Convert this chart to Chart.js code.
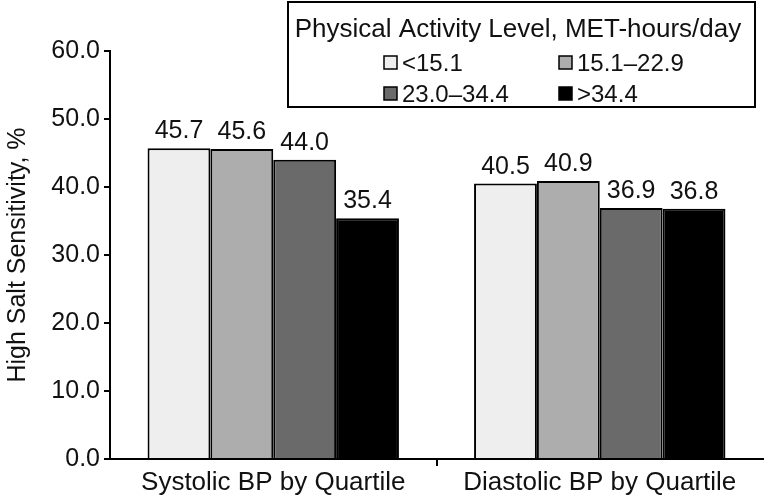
<!DOCTYPE html>
<html><head><meta charset="utf-8">
<script src="https://cdn.jsdelivr.net/npm/chart.js@4"></script>
<style>html,body{margin:0;padding:0;background:#fff}#wrap{width:770px;height:503px}</style>
</head><body><div id="wrap"><canvas id="c" width="770" height="503"></canvas></div>
<script>
const categories = ["Systolic BP by Quartile", "Diastolic BP by Quartile"];
const seriesNames = ["<15.1", "15.1\u201322.9", "23.0\u201334.4", ">34.4"];
const lowest = [45.7, 40.5];
const second = [45.6, 40.9];
const third = [44.0, 36.9];
const highest = [35.4, 36.8];
const yTicks = [0, 10, 20, 30, 40, 50, 60];
const legendTitle = "Physical Activity Level, MET-hours/day";
const colors = ["#eeeeee", "#adadad", "#6a6a6a", "#000000"];
const FONT = "'Liberation Sans', Arial, sans-serif";

const valueLabels = {
  id: 'valueLabels',
  afterDatasetsDraw(chart) {
    const ctx = chart.ctx;
    ctx.save();
    ctx.font = "25px " + FONT;
    ctx.fillStyle = "#111";
    ctx.textAlign = "center";
    ctx.textBaseline = "alphabetic";
    chart.data.datasets.forEach((ds, i) => {
      chart.getDatasetMeta(i).data.forEach((bar, j) => {
        ctx.fillText(ds.data[j].toFixed(1), bar.x, bar.y - 10);
      });
    });
    ctx.restore();
  }
};

const boxLegend = {
  id: 'boxLegend',
  afterDraw(chart) {
    const ctx = chart.ctx;
    ctx.save();
    ctx.strokeStyle = "#000";
    ctx.lineWidth = 2;
    ctx.strokeRect(288, 2, 467, 105);
    ctx.fillStyle = "#111";
    ctx.font = "26px " + FONT;
    ctx.textAlign = "center";
    ctx.textBaseline = "middle";
    ctx.fillText(legendTitle, 518, 30);
    const pos = [[384, 63], [559, 63], [384, 94], [559, 94]];
    chart.data.datasets.forEach((ds, i) => {
      const [x, y] = pos[i];
      ctx.fillStyle = ds.backgroundColor;
      ctx.fillRect(x, y - 7, 13, 13);
      ctx.strokeStyle = "#000";
      ctx.lineWidth = 1.5;
      ctx.strokeRect(x, y - 7, 13, 13);
      ctx.fillStyle = "#111";
      ctx.textAlign = "left";
      ctx.font = "24px " + FONT;
      ctx.fillText(ds.label, x + 18, y + 1);
    });
    ctx.restore();
  }
};

new Chart(document.getElementById('c'), {
  type: 'bar',
  data: {
    labels: categories,
    datasets: [lowest, second, third, highest].map((d, i) => ({
      label: seriesNames[i],
      data: d,
      backgroundColor: colors[i],
      borderColor: "#000",
      borderWidth: 2,
      borderSkipped: 'bottom',
      categoryPercentage: 0.77,
      barPercentage: 1.0
    }))
  },
  options: {
    responsive: false,
    animation: false,
    layout: { padding: { top: 51, right: 7, left: 0, bottom: 0 } },
    plugins: { legend: { display: false }, tooltip: { enabled: false } },
    scales: {
      x: {
        offset: true,
        grid: { display: true, offset: true, drawOnChartArea: false, drawTicks: true, tickLength: 7,
                color: c => (c.index === 1 ? "#000" : "rgba(0,0,0,0)"), lineWidth: 2 },
        border: { display: true, color: "#000", width: 2 },
        ticks: { color: "#111", font: { size: 26, family: FONT }, padding: 1 },
        afterFit(scale) { scale.height = 44; }
      },
      y: {
        min: 0, max: 60,
        afterBuildTicks(scale) { scale.ticks = yTicks.map(v => ({ value: v })); },
        grid: { display: true, drawOnChartArea: false, drawTicks: true, tickLength: 6, color: "#000", lineWidth: 2 },
        border: { display: true, color: "#000", width: 2 },
        ticks: { color: "#111", font: { size: 25, family: FONT }, padding: 4, callback: v => Number(v).toFixed(1) },
        title: { display: true, text: "High Salt Sensitivity, %", color: "#111", font: { size: 25, family: FONT }, padding: { top: 3, bottom: 8 } },
        afterFit(scale) { scale.width = 110; }
      }
    }
  },
  plugins: [valueLabels, boxLegend]
});
</script></body></html>
